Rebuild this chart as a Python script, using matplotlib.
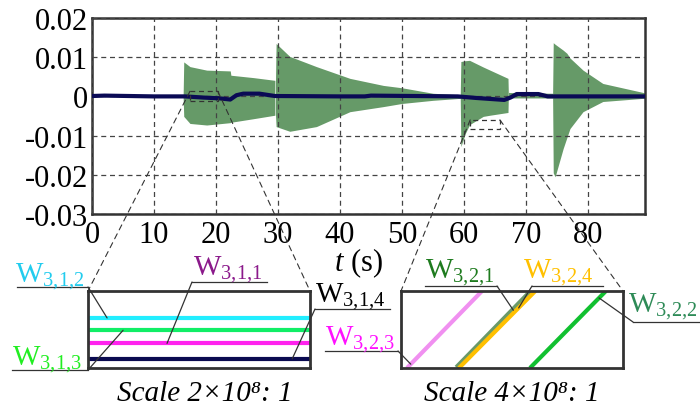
import matplotlib
matplotlib.use("Agg")
import matplotlib.pyplot as plt
from matplotlib.patches import Rectangle, ConnectionPatch
from matplotlib.lines import Line2D

plt.rcParams['font.family'] = ['Liberation Serif', 'DejaVu Serif']
plt.rcParams['mathtext.fontset'] = 'custom'
plt.rcParams['mathtext.rm'] = 'Liberation Serif'
plt.rcParams['mathtext.it'] = 'Liberation Serif:italic'
plt.rcParams['axes.unicode_minus'] = False

# oscillation envelope (upper / lower bound), one list per event
env_t = [
    [14.7, 14.8, 15.8, 18.5, 22.3, 22.4, 26.0, 29.5],
    [29.6, 29.7, 31.9, 36.2, 41.6, 47.0, 50.0, 55.0, 59.4],
    [59.4, 59.5, 60.2, 60.9, 63.1, 64.2, 67.1],
    [67.1, 67.2, 70.0, 74.3],
    [74.3, 74.4, 74.7, 76.0, 76.6, 77.1, 79.2, 82.4, 88.9, 89.2],
]
env_hi = [
    [0.0002, 0.0088, 0.0076, 0.0067, 0.0065, 0.0054, 0.0048, 0.0041],
    [0.0041, 0.0135, 0.0102, 0.0076, 0.0046, 0.0028, 0.0022, 0.0008, 0.0004],
    [0.0004, 0.0089, 0.0091, 0.0092, 0.0075, 0.0067, 0.0046],
    [0.0046, 0.0010, 0.0009, 0.0008],
    [0.0008, 0.0137, 0.0133, 0.0118, 0.0110, 0.0098, 0.0067, 0.0033, 0.0010, 0.0009],
]
env_lo = [
    [-0.0002, -0.0051, -0.0069, -0.0073, -0.0067, -0.0066, -0.0057, -0.0048],
    [-0.0048, -0.0077, -0.0089, -0.0077, -0.0039, -0.0026, -0.0018, -0.0010, -0.0005],
    [-0.0005, -0.0128, -0.0095, -0.0072, -0.0051, -0.0048, -0.0041],
    [-0.0041, -0.0004, -0.0004, -0.0004],
    [-0.0004, -0.0195, -0.0205, -0.0133, -0.0105, -0.0082, -0.0039, -0.0013, -0.0005, -0.0005],
]

# mean response
mean_t = [0, 2, 10, 15, 18, 20.6, 22.3, 23.3, 24.4, 27, 29.5, 40, 44, 45, 59, 62, 66.5,
          67.5, 68.5, 72, 73.5, 89.2]
mean_v = [0.0001, 0.0002, 0.0, 0.0, -0.0003, -0.0005, -0.0008, 0.0003, 0.0007, 0.0007,
          0.0001, 0.0, 0.0, 0.0002, 0.0, -0.0004, -0.0009, -0.0003, 0.0006, 0.0006,
          0.0, 0.0]

x_ticks = [0, 10, 20, 30, 40, 50, 60, 70, 80]
y_ticks = [-0.03, -0.02, -0.01, 0, 0.01, 0.02]
y_tick_labels = ["-0.03", "-0.02", "-0.01", "0", "0.01", "0.02"]

# zoomed windows (t range, y range)
zoom1_t = (15.8, 20.3)
zoom1_y = (-0.0013, 0.0013)
zoom2_t = (61.0, 65.8)
zoom2_y = (-0.0084, -0.0060)
zoom_titles = ["Scale 2×10⁸: 1", "Scale 4×10⁸: 1"]

# first zoom: flat traces (levels in window units)
w31_names = ["W$_{3{,}1{,}2}$", "W$_{3{,}1{,}3}$", "W$_{3{,}1{,}1}$", "W$_{3{,}1{,}4}$"]
w31_levels = [0.65, 0.49, 0.32, 0.12]
w31_colors = ["#22eeff", "#11ee66", "#ff22ee", "#0a0a50"]

# second zoom: ramps (x where each trace enters at bottom and leaves at top)
w32_names = ["W$_{3{,}2{,}3}$", "W$_{3{,}2{,}1}$", "W$_{3{,}2{,}4}$", "W$_{3{,}2{,}2}$"]
w32_x0 = [0.027, 0.252, 0.261, 0.581]
w32_x1 = [0.365, 0.590, 0.605, 0.923]
w32_colors = ["#f090f0", "#4f874f", "#ffc000", "#11c030"]
w32_widths = [3, 4.5, 3, 3]
w32_alpha = [1, 0.85, 1, 1]

W, H = 700, 410
fig = plt.figure(figsize=(7, 4.1), dpi=100)


def box(x0, y0, x1, y1):
    return [x0 / W, 1 - y1 / H, (x1 - x0) / W, (y1 - y0) / H]


def fp(x, y):
    return (x / W, 1 - y / H)


ax = fig.add_axes(box(92, 19, 645, 215))
for t, hi, lo in zip(env_t, env_hi, env_lo):
    ax.fill_between(t, lo, hi, color="#669a68", lw=0, zorder=1)
ax.plot(mean_t, mean_v, color="#0a0a55", lw=3, solid_capstyle="butt", zorder=3)
ax.set_xlim(0, 89.2)
ax.set_ylim(-0.03, 0.02)
ax.set_xticks(x_ticks)
ax.set_xticklabels([str(v) for v in x_ticks])
ax.set_yticks(y_ticks)
ax.set_yticklabels(y_tick_labels)
ax.tick_params(length=0, labelsize=22, pad=3)
ax.tick_params(axis="x", pad=4)
ax.set_axisbelow(False)
ax.grid(True, color="#444444", ls=(0, (4, 3)), lw=0.9, zorder=2)
for s in ax.spines.values():
    s.set_color("#333333")
    s.set_linewidth(1.8)
fig.text(*fp(358, 271), "$\\mathit{t}$ (s)", fontsize=22, ha="center", va="baseline")

# inset boxes
ins1 = fig.add_axes(box(88, 292, 310, 369))
ins2 = fig.add_axes(box(401, 292, 623, 369))
for a in (ins1, ins2):
    a.set_xlim(0, 1)
    a.set_ylim(0, 1)
    a.set_xticks([])
    a.set_yticks([])
    for s in a.spines.values():
        s.set_color("#333333")
        s.set_linewidth(2)

for lvl, c in zip(w31_levels, w31_colors):
    ins1.plot([0, 1], [lvl, lvl], color=c, lw=3, solid_capstyle="butt")
for x0, x1, c, lw, al in zip(w32_x0, w32_x1, w32_colors, w32_widths, w32_alpha):
    ins2.plot([x0, x1], [0, 1], color=c, lw=lw, alpha=al, solid_capstyle="butt")

# dashed zoom frames and connectors
for (t0, t1), (y0, y1), ins in ((zoom1_t, zoom1_y, ins1), (zoom2_t, zoom2_y, ins2)):
    ax.add_patch(Rectangle((t0, y0), t1 - t0, y1 - y0, fill=False, ec="#333333",
                           ls=(0, (4, 3)), lw=0.9, zorder=4))
    for tx, bx in ((t0, 0), (t1, 1)):
        cp = ConnectionPatch(xyA=(tx, y1), coordsA=ax.transData, xyB=(bx, 1),
                             coordsB=ins.transAxes, color="#333333", lw=0.8,
                             ls=(0, (5, 4)))
        fig.add_artist(cp)


# labels: text, colour, text pos, underline span, leader start, target
def label(text, color, tx, ty, ux0, ux1, uy, lx, ins, target):
    fig.text(*fp(tx, ty), text, color=color, fontsize=21, va="baseline")
    fig.add_artist(Line2D([ux0 / W, ux1 / W], [1 - uy / H] * 2, color="#333333",
                          lw=0.9, transform=fig.transFigure))
    cp = ConnectionPatch(xyA=fp(lx, uy), coordsA=fig.transFigure, xyB=target,
                         coordsB=ins.transData, color="#333333", lw=0.9)
    fig.add_artist(cp)


label(w31_names[0], "#22ccee", 15, 282, 17, 88, 288, 88, ins1, (0.086, w31_levels[0]))
label(w31_names[1], "#22ee22", 12, 365, 12, 88, 371, 88, ins1, (0.158, w31_levels[1]))
label(w31_names[2], "#8b1a8b", 193, 275, 192, 267, 283, 192, ins1, (0.356, w31_levels[2]))
label(w31_names[3], "black", 315, 302, 315, 390, 310, 315, ins1, (0.92, w31_levels[3]))
label(w32_names[0], "#ff11ff", 325, 345, 325, 398, 352, 398, ins2, (0.044, 0.05))
label(w32_names[1], "#1e7b1e", 425, 278, 425, 497, 287, 497, ins2, (0.506, 0.75))
label(w32_names[2], "#ffc000", 523, 278, 532, 603, 287, 532, ins2, (0.530, 0.78))
label(w32_names[3], "#2e8b57", 628, 312, 633, 700, 323, 633, ins2, (0.892, 0.91))

fig.text(*fp(205, 401), zoom_titles[0], fontsize=21, style="italic",
         ha="center", va="baseline")
fig.text(*fp(512, 401), zoom_titles[1], fontsize=21, style="italic",
         ha="center", va="baseline")

fig.savefig("out.png", dpi=100)
